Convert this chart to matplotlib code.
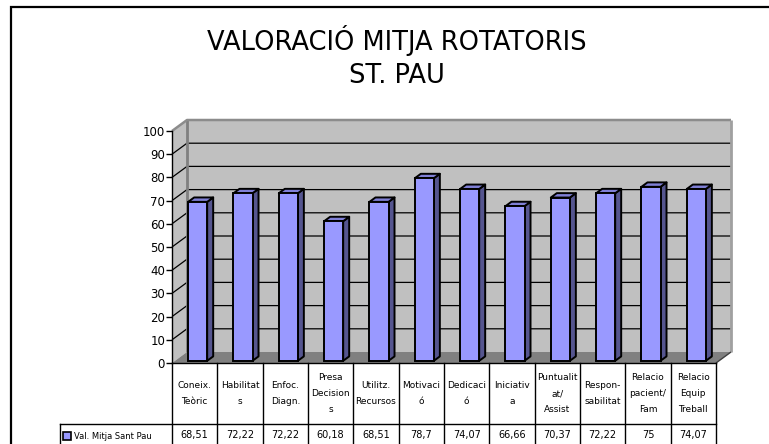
import matplotlib
matplotlib.use("Agg")
import matplotlib.pyplot as plt
from matplotlib.patches import Polygon, Rectangle
from matplotlib import transforms
import numpy as np

# chart data
categories = ["Coneix.\nTeòric", "Habilitat\ns", "Enfoc.\nDiagn.", "Presa\nDecision\ns",
              "Utilitz.\nRecursos", "Motivaci\nó", "Dedicaci\nó", "Iniciativ\na",
              "Puntualit\nat/\nAssist", "Respon-\nsabilitat", "Relacio\npacient/\nFam",
              "Relacio\nEquip\nTreball"]
values = [68.51, 72.22, 72.22, 60.18, 68.51, 78.7, 74.07, 66.66, 70.37, 72.22, 75, 74.07]
value_labels = ["68,51", "72,22", "72,22", "60,18", "68,51", "78,7", "74,07",
                "66,66", "70,37", "72,22", "75", "74,07"]
series_name = "Val. Mitja Sant Pau"
title_lines = ["VALORACIÓ MITJA ROTATORIS", "ST. PAU"]
yticks = list(range(0, 101, 10))

W, H = 769, 444
fig = plt.figure(figsize=(W / 100, H / 100), dpi=100)
fig.patch.set_facecolor("white")

# front plane of the 3d box
ax = fig.add_axes([172 / W, 81 / H, 544 / W, 232 / H])
ax.set_xlim(-0.5, len(values) - 0.5)
ax.set_ylim(0, 100)
ax.patch.set_visible(False)
for s in ["top", "right", "bottom"]:
    ax.spines[s].set_visible(False)
ax.spines["left"].set_linewidth(1.0)
ax.spines["left"].set_zorder(10)
ax.set_xticks([])
ax.set_yticks(yticks)
ax.tick_params(axis="y", length=4, width=1, pad=1, labelsize=8.5)
for lab in ax.get_yticklabels():
    lab.set_fontfamily("DejaVu Sans")

D = np.array([15.0, 11.0])  # depth offset in pixels
ident = transforms.IdentityTransform()
x0, x1 = -0.5, len(values) - 0.5


def disp(x, y, t):
    return ax.transData.transform((x, y)) + t * D


def face(pts, fc, ec="none", lw=0, z=1):
    p = Polygon(pts, closed=True, facecolor=fc, edgecolor=ec, linewidth=lw,
                transform=ident, clip_on=False, zorder=z, joinstyle="round")
    ax.add_patch(p)


def line(pts, color, lw, z=1.5):
    pts = np.array(pts)
    ax.plot(pts[:, 0], pts[:, 1], color=color, lw=lw, transform=ident,
            clip_on=False, zorder=z, solid_capstyle="butt")


# walls and floor
face([disp(x0, 0, 0), disp(x0, 100, 0), disp(x0, 100, 1), disp(x0, 0, 1)], "#c0c0c0", z=0.5)
face([disp(x0, 0, 1), disp(x1, 0, 1), disp(x1, 100, 1), disp(x0, 100, 1)], "#c0c0c0", z=0.5)
face([disp(x0, 0, 0), disp(x1, 0, 0), disp(x1, 0, 1), disp(x0, 0, 1)], "#808080", z=0.6)

for v in yticks[1:-1]:
    line([disp(x0, v, 0), disp(x0, v, 1), disp(x1, v, 1)], "black", 0.9)

line([disp(x0, 0, 1), disp(x0, 100, 1)], "#808080", 2.0)
line([disp(x0, 100, 0), disp(x0, 100, 1), disp(x1, 100, 1)], "#8c8c8c", 1.8)
line([disp(x1, 0, 1), disp(x1, 100, 1)], "#a0a0a0", 2.0)
line([disp(x1, 0, 0), disp(x1, 0, 1)], "#404040", 1.0)

# bars
bw = 0.42
t0, t1 = 0.2, 0.6
front = ax.transData + transforms.Affine2D().translate(*(t0 * D))
xs = np.arange(len(values))
ax.bar(xs, values, width=bw, color="#9999ff", edgecolor="black", linewidth=1.4,
       transform=front, clip_on=False, zorder=3)
for x, v in zip(xs, values):
    xl, xr = x - bw / 2, x + bw / 2
    face([disp(xr, 0, t0), disp(xr, v, t0), disp(xr, v, t1), disp(xr, 0, t1)],
         "#55558f", "black", 1.4, z=2.8)
    face([disp(xl, v, t0), disp(xr, v, t0), disp(xr, v, t1), disp(xl, v, t1)],
         "#8080d6", "black", 1.4, z=2.8)

# data table
bt = transforms.blended_transform_factory(ax.transData, ax.transAxes)
row1 = -61 / 232
bottom = -81 / 232
leg_x = -0.5 - 112 / 45.33
for i in range(len(values) + 1):
    ax.plot([i - 0.5, i - 0.5], [0, bottom], color="black", lw=1, transform=bt,
            clip_on=False, zorder=5)
ax.plot([x0, x1], [0, 0], color="black", lw=1, transform=bt, clip_on=False, zorder=5)
ax.plot([leg_x, x1], [row1, row1], color="black", lw=1, transform=bt, clip_on=False, zorder=5)
ax.plot([leg_x, leg_x], [row1, bottom], color="black", lw=1, transform=bt,
        clip_on=False, zorder=5)

for x, cat, lab in zip(xs, categories, value_labels):
    ax.text(x, row1 / 2, cat, transform=bt, ha="center", va="center", fontsize=6.5,
            linespacing=1.95, family="DejaVu Sans")
    ax.text(x, -72 / 232, lab, transform=bt, ha="center", va="center", fontsize=7,
            family="DejaVu Sans")

ax.plot([leg_x + 0.16], [-73 / 232], marker="s", markersize=5.5, markerfacecolor="#9999ff",
        markeredgecolor="black", markeredgewidth=1.2, transform=bt, clip_on=False, zorder=6)
ax.text(leg_x + 0.31, -73 / 232, series_name, transform=bt, ha="left", va="center",
        fontsize=6, family="DejaVu Sans")

# title
fig.text(397 / W, 1 - 40 / H, title_lines[0], ha="center", va="center", fontsize=18.5,
         family="DejaVu Sans")
fig.text(397 / W, 1 - 76 / H, title_lines[1], ha="center", va="center", fontsize=18.5,
         family="DejaVu Sans")

# outer chart frame (right and bottom edges run past the image)
fig.add_artist(Rectangle((11 / W, -0.1), 2, 1 - 7 / H + 0.1, transform=fig.transFigure,
                         fill=False, edgecolor="black", linewidth=1.6))

fig.savefig("out.png", dpi=100)
